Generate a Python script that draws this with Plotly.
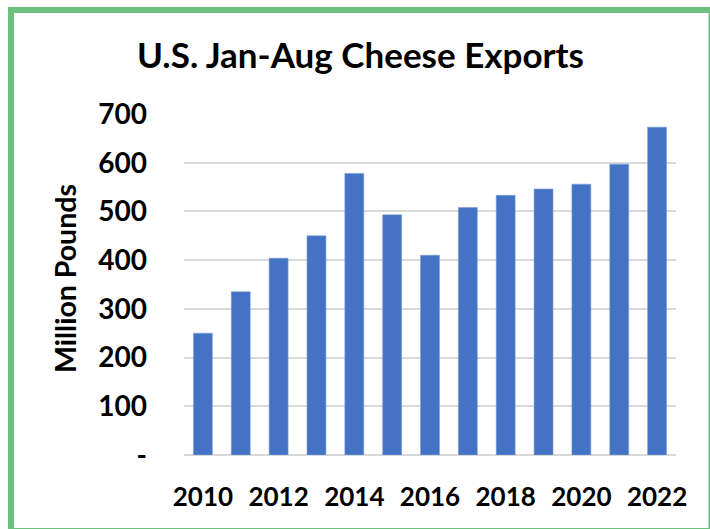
import plotly.graph_objects as go

years = [2010, 2011, 2012, 2013, 2014, 2015, 2016, 2017, 2018, 2019, 2020, 2021, 2022]
exports = [250, 335, 404, 450, 578, 493, 410, 508, 533, 546, 556, 597, 673]
y_ticks = [0, 100, 200, 300, 400, 500, 600, 700]
y_tick_text = ["-", "100", "200", "300", "400", "500", "600", "700"]
x_ticks = [2010, 2012, 2014, 2016, 2018, 2020, 2022]

W, H = 710, 529
L, R, T, B = 184, 34, 114, 74
pw, ph = W - L - R, H - T - B

def px_x(x):
    return (x - L) / pw

def px_y(y):
    return (H - B - y) / ph

FONT = "Lato"

fig = go.Figure()
fig.add_trace(go.Bar(
    x=years, y=exports,
    marker=dict(color="#4472C4", line=dict(width=0.6, color="#7B9CD8")),
))

fig.update_layout(
    width=W, height=H,
    margin=dict(l=L, r=R, t=T, b=B),
    paper_bgcolor="white", plot_bgcolor="white",
    bargap=0.5,
    showlegend=False,
    font=dict(family=FONT, color="black"),
    title=dict(
        text="<b>U.S. Jan-Aug Cheese Exports</b>",
        x=360.5 / W, xanchor="center", xref="container",
        y=1 - 56 / H, yanchor="middle", yref="container",
        font=dict(family=FONT, size=35, color="black"),
    ),
    xaxis=dict(
        range=[2009.5, 2022.5],
        tickvals=x_ticks,
        ticktext=["<b>%d</b>" % v for v in x_ticks],
        tickfont=dict(family=FONT, size=26, color="black"),
        showgrid=False, zeroline=False,
        showline=False, ticks="",
        ticklabelstandoff=24,
    ),
    yaxis=dict(
        range=[0, 700],
        tickvals=y_ticks,
        ticktext=["<b>%s</b>" % t for t in y_tick_text],
        tickfont=dict(family=FONT, size=28, color="black"),
        showgrid=True, gridcolor="#D9D9D9", gridwidth=2,
        zeroline=True, zerolinecolor="#D9D9D9", zerolinewidth=2,
        ticks="", showline=False,
        ticklabelstandoff=36,
    ),
    annotations=[dict(
        text="<b>Million Pounds</b>",
        textangle=-90,
        xref="paper", yref="paper",
        x=px_x(65), y=px_y(279),
        xanchor="center", yanchor="middle",
        showarrow=False,
        font=dict(family=FONT, size=28.5, color="black"),
    )],
    shapes=[dict(
        type="rect", xref="paper", yref="paper",
        x0=px_x(11), x1=px_x(711.5),
        y0=px_y(531), y1=px_y(10),
        line=dict(color="#6CBF7C", width=6),
        fillcolor="rgba(0,0,0,0)",
        layer="above",
    )],
)

fig.write_html("out.html")
